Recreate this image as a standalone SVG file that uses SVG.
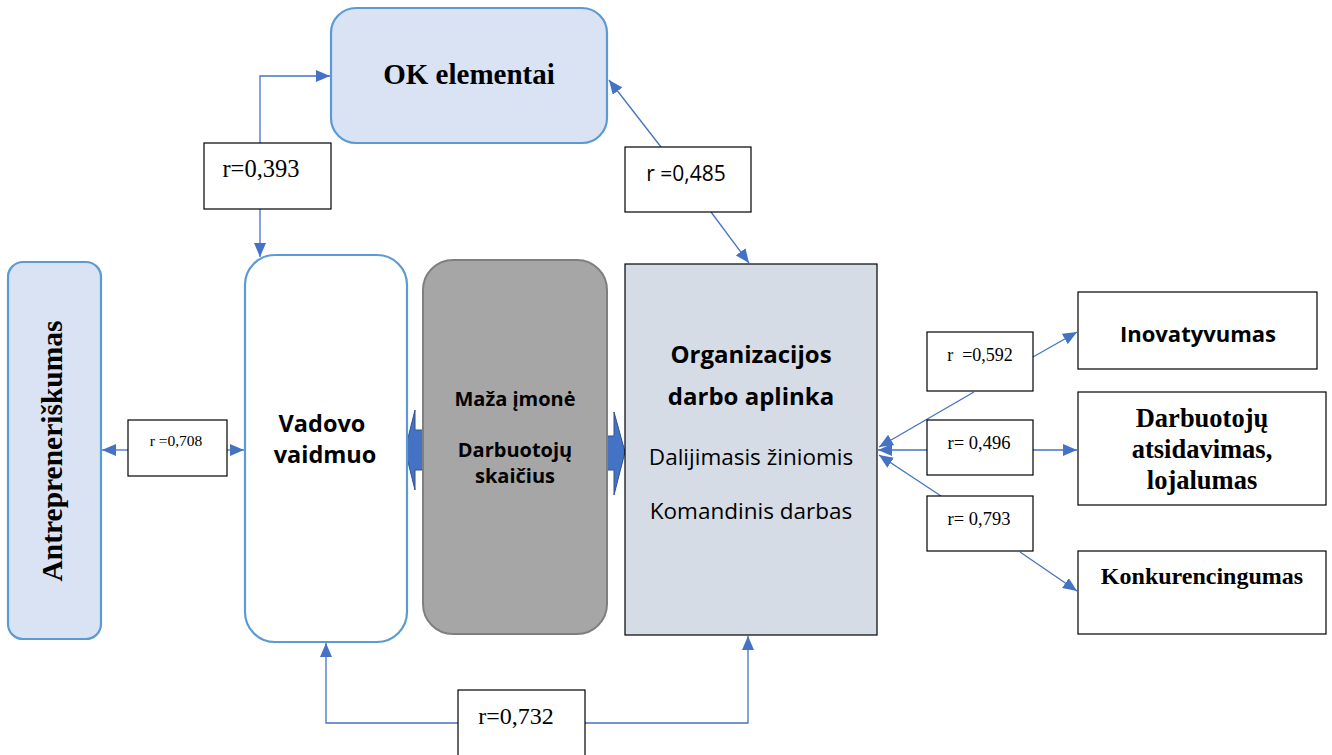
<svg xmlns="http://www.w3.org/2000/svg" width="1332" height="755" viewBox="0 0 1332 755">
<style>
.lb{fill:#dae3f3;stroke:#5b9bd5;stroke-width:2.2}
.wb{fill:#ffffff;stroke:#5b9bd5;stroke-width:2.2}
.gb{fill:#a6a6a6;stroke:#7f7f7f;stroke-width:2}
.bx{fill:#ffffff;stroke:#000000;stroke-width:1.2}
.ob{fill:#d6dce5;stroke:#000000;stroke-width:1.2}
.ln{fill:none;stroke:#4472c4;stroke-width:1.3}
.ba{fill:#4472c4;stroke:#2f528f;stroke-width:1}
.tm{font-family:"Liberation Serif",serif;fill:#000}
.sa{font-family:"Open Sans","Noto Sans",sans-serif;fill:#000}
.b{font-weight:bold}
</style>
<defs>
<marker id="ah" viewBox="0 0 14 12" refX="14" refY="6" markerWidth="14" markerHeight="12" markerUnits="userSpaceOnUse" orient="auto">
<path d="M0,0 L14,6 L0,12 Z" fill="#4472c4"/>
</marker>
</defs>

<g id="connectors">
<polyline class="ln" points="260,143 260,76 330,76" marker-end="url(#ah)"/>
<line class="ln" x1="260" y1="209" x2="260" y2="257" marker-end="url(#ah)"/>
<line class="ln" x1="661" y1="147" x2="609" y2="80" marker-end="url(#ah)"/>
<line class="ln" x1="711" y1="212" x2="749" y2="263" marker-end="url(#ah)"/>
<line class="ln" x1="128" y1="450" x2="102" y2="450" marker-end="url(#ah)"/>
<line class="ln" x1="227" y1="450" x2="244" y2="450" marker-end="url(#ah)"/>
<line class="ln" x1="1033" y1="357" x2="1077" y2="332" marker-end="url(#ah)"/>
<line class="ln" x1="974" y1="392" x2="879" y2="447" marker-end="url(#ah)"/>
<line class="ln" x1="927" y1="450" x2="878" y2="450" marker-end="url(#ah)"/>
<line class="ln" x1="941" y1="496" x2="879" y2="455" marker-end="url(#ah)"/>
<line class="ln" x1="1033" y1="450" x2="1077" y2="450" marker-end="url(#ah)"/>
<line class="ln" x1="1020" y1="552" x2="1077" y2="591" marker-end="url(#ah)"/>
<polyline class="ln" points="458,723 326,723 326,643" marker-end="url(#ah)"/>
<polyline class="ln" points="585,723 748,723 748,636" marker-end="url(#ah)"/>
<path class="ba" d="M423,430 L415,430 L415,410 L405,450 L415,490 L415,470 L423,470 Z"/>
<path class="ba" d="M607,436 L614,436 L614,412 L625,452 L614,495 L614,470 L607,470 Z"/>
</g>

<g id="ok-elementai">
<rect class="lb" x="331" y="8" width="276" height="135" rx="25"/>
<text class="tm b" x="469" y="84" font-size="29" text-anchor="middle">OK elementai</text>
</g>

<g id="r393">
<rect class="bx" x="204" y="143" width="127" height="66"/>
<text class="tm" x="261" y="177" font-size="24.5" text-anchor="middle">r=0,393</text>
</g>

<g id="r485">
<rect class="bx" x="625" y="147" width="126" height="65"/>
<text class="sa" x="686" y="181" font-size="21" text-anchor="middle">r =0,485</text>
</g>

<g id="antrepreneriskumas">
<rect class="lb" x="8" y="262" width="93" height="377" rx="15"/>
<text class="tm b" transform="translate(62,451) rotate(-90)" font-size="29.5" text-anchor="middle">Antrepreneriškumas</text>
</g>

<g id="r708">
<rect class="bx" x="128" y="420" width="99" height="56"/>
<text class="tm" x="176" y="446" font-size="15.5" text-anchor="middle">r =0,708</text>
</g>

<g id="vadovo-vaidmuo">
<rect class="wb" x="245" y="255" width="162" height="387" rx="30"/>
<text class="sa b" x="322" y="432" font-size="23.5" text-anchor="middle">Vadovo</text>
<text class="sa b" x="325" y="463" font-size="23.5" text-anchor="middle">vaidmuo</text>
</g>

<g id="maza-imone">
<rect class="gb" x="423" y="260" width="184" height="374" rx="30"/>
<text class="sa b" x="515" y="406" font-size="20" text-anchor="middle">Maža įmonė</text>
<text class="sa b" x="515" y="457" font-size="20" text-anchor="middle">Darbuotojų</text>
<text class="sa b" x="515" y="483" font-size="20" text-anchor="middle">skaičius</text>
</g>

<g id="organizacijos">
<rect class="ob" x="625" y="264" width="252" height="371"/>
<text class="sa b" x="751" y="363" font-size="24" text-anchor="middle">Organizacijos</text>
<text class="sa b" x="751" y="405" font-size="24" text-anchor="middle">darbo aplinka</text>
<text class="sa" x="751" y="465" font-size="22.5" text-anchor="middle">Dalijimasis žiniomis</text>
<text class="sa" x="751" y="519" font-size="22.5" text-anchor="middle">Komandinis darbas</text>
</g>

<g id="r592">
<rect class="bx" x="927" y="332" width="106" height="59"/>
<text class="tm" x="980" y="361" font-size="18" text-anchor="middle" xml:space="preserve">r  =0,592</text>
</g>

<g id="r496">
<rect class="bx" x="927" y="420" width="106" height="55"/>
<text class="tm" x="979" y="449" font-size="18.5" text-anchor="middle">r= 0,496</text>
</g>

<g id="r793">
<rect class="bx" x="927" y="496" width="106" height="55"/>
<text class="tm" x="979" y="525" font-size="18.5" text-anchor="middle">r= 0,793</text>
</g>

<g id="inovatyvumas">
<rect class="bx" x="1078" y="292" width="239" height="77"/>
<text class="sa b" x="1198" y="342" font-size="22" text-anchor="middle">Inovatyvumas</text>
</g>

<g id="darbuotoju-atsidavimas">
<rect class="bx" x="1078" y="392" width="248" height="113"/>
<text class="tm b" x="1202" y="427" font-size="26.5" text-anchor="middle">Darbuotojų</text>
<text class="tm b" x="1202" y="458" font-size="26.5" text-anchor="middle">atsidavimas,</text>
<text class="tm b" x="1202" y="489" font-size="26.5" text-anchor="middle">lojalumas</text>
</g>

<g id="konkurencingumas">
<rect class="bx" x="1078" y="551" width="248" height="83"/>
<text class="tm b" x="1202" y="584" font-size="24" text-anchor="middle">Konkurencingumas</text>
</g>

<g id="r732">
<rect class="bx" x="458" y="690" width="127" height="70"/>
<text class="tm" x="516" y="724" font-size="24" text-anchor="middle">r=0,732</text>
</g>
</svg>
